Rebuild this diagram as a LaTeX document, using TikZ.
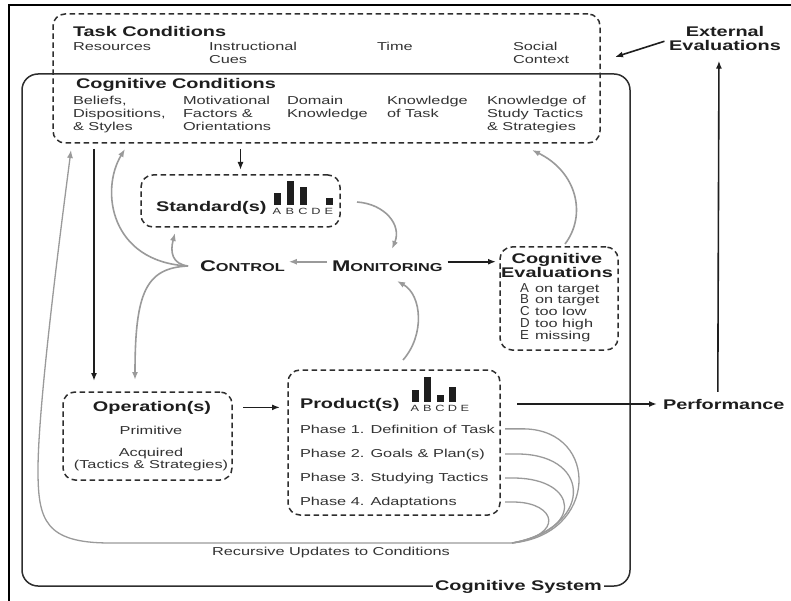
\documentclass[tikz,border=0pt]{standalone}
\usepackage{graphicx}
\usepackage{fontspec}
\setmainfont{Liberation Sans}[FakeStretch=1.42]
\usetikzlibrary{arrows.meta}
\definecolor{ink}{HTML}{1E1E1E}
\definecolor{txt}{HTML}{333333}
\definecolor{soft}{HTML}{9A9A9A}
\definecolor{boxline}{HTML}{2E2E2E}
% small caps built from two sizes
\newcommand\bigsmall[2]{{\fontsize{15.5}{15}\selectfont #1}{\fontsize{11.5}{12}\selectfont #2}}
% evaluation letter column
\newcommand\evl[1]{\makebox[15pt][l]{\scalebox{0.72}[1]{\fontsize{13}{11.8}\selectfont #1}}}

\begin{document}
\begin{tikzpicture}[x=1pt,y=-1pt,
  every node/.style={inner sep=0pt, outer sep=0pt},
  title/.style={font=\fontsize{14}{13.5}\selectfont\bfseries, text=ink},
  item/.style={font=\fontsize{11.5}{12.8}\selectfont, text=txt, align=left},
  dbox/.style={draw=boxline, line width=1.5pt, dash pattern=on 5.5pt off 3.5pt, rounded corners=12pt},
  blk/.style={draw=ink, line width=1.6pt, -{Latex[length=8pt,width=6pt]}},
  gry/.style={draw=soft, line width=1.6pt, -{Latex[length=8pt,width=6pt]}},
  lp/.style={draw=soft, line width=1.3pt},
  tick/.style={font=\fontsize{9}{9}\selectfont, text=txt, anchor=base},
]
\useasboundingbox (0,0) rectangle (791,601);
\fill[white] (0,0) rectangle (791,601);

% outer frame
\draw[line width=2pt] (9,601) -- (9,5) -- (791,5);

% cognitive system outline
\draw[draw=boxline, line width=1.5pt, rounded corners=16pt] (22,74) rectangle (630,586);
\node[title, anchor=base west, fill=white, inner xsep=2pt, inner ysep=2pt] (cogsys) at (433,590) {Cognitive System};

% dashed boxes
\node[dbox, minimum width=547pt, minimum height=129pt] (condbox) at (326.5,78.5) {};
\node[dbox, minimum width=199pt, minimum height=52pt] (stdbox) at (240.5,201) {};
\node[dbox, minimum width=118pt, minimum height=103pt] (evalbox) at (559,298.5) {};
\node[dbox, minimum width=169pt, minimum height=88pt] (opbox) at (147.5,436) {};
\node[dbox, minimum width=212pt, minimum height=145pt] (prodbox) at (394,442.5) {};

% task conditions (multi-line nodes sit on their last baseline)
\node[title, anchor=base west] (task) at (73,37) {Task Conditions};
\node[item, anchor=base west] (res) at (73,51) {Resources};
\node[item, anchor=base west] (cues) at (209,63.8) {Instructional\\Cues};
\node[item, anchor=base west] (time) at (377,51) {Time};
\node[item, anchor=base west] (social) at (513,63.8) {Social\\Context};

% cognitive conditions
\node[title, anchor=base west] (cogc) at (76,89) {Cognitive Conditions};
\node[item, anchor=base west] (beliefs) at (73,130.6) {Beliefs,\\Dispositions,\\\& Styles};
\node[item, anchor=base west] (motiv) at (183,130.6) {Motivational\\Factors \&\\Orientations};
\node[item, anchor=base west] (domain) at (287,117.8) {Domain\\Knowledge};
\node[item, anchor=base west] (ktask) at (387,117.8) {Knowledge\\of Task};
\node[item, anchor=base west] (ktact) at (487,130.6) {Knowledge of\\Study Tactics\\\& Strategies};

% external evaluations
\node[title, anchor=base, align=center] (ext) at (725,50.5) {External\\Evaluations};

% standards
\node[title, anchor=base west] (std) at (156,212) {Standard(s)};
\fill[ink] (273.5,205) rectangle (280.5,193);
\fill[ink] (286.5,205) rectangle (293.5,181);
\fill[ink] (299.5,205) rectangle (306.5,187);
\fill[ink] (325.5,205) rectangle (332.5,198);
\node[tick] (sa) at (277,215) {A};
\node[tick] (sb) at (290,215) {B};
\node[tick] (sc) at (303,215) {C};
\node[tick] (sd) at (316,215) {D};
\node[tick] (se) at (329,215) {E};

% control and monitoring
\node[anchor=base west, text=ink, font=\bfseries] (ctl) at (200,272) {\bigsmall{C}{ONTROL}};
\node[anchor=base west, text=ink, font=\bfseries] (mon) at (332,272) {\bigsmall{M}{ONITORING}};

% cognitive evaluations
\node[title, anchor=base, align=center, font=\fontsize{14}{14}\selectfont\bfseries] (ceval) at (557,277) {Cognitive\\Evaluations};
\node[item, anchor=base west, font=\fontsize{11.5}{11.8}\selectfont] (evlist) at (520,339.2)
  {\evl{A}on target\\\evl{B}on target\\\evl{C}too low\\\evl{D}too high\\\evl{E}missing};

% operations
\node[title, anchor=base] (optitle) at (152,411) {Operation(s)};
\node[item, anchor=base, align=center] (prim) at (151,434) {Primitive};
\node[item, anchor=base, align=center, font=\fontsize{11.5}{12}\selectfont] (acq) at (151,468) {Acquired\\(Tactics \& Strategies)};

% products
\node[title, anchor=base west] (prodtitle) at (300,408) {Product(s)};
\fill[ink] (411.5,402) rectangle (418.5,390);
\fill[ink] (423.5,402) rectangle (431,377);
\fill[ink] (436.5,402) rectangle (443.5,395);
\fill[ink] (449,402) rectangle (456,387);
\node[tick] (pa) at (415,411) {A};
\node[tick] (pb) at (427.5,411) {B};
\node[tick] (pc) at (440,411) {C};
\node[tick] (pd) at (452.5,411) {D};
\node[tick] (pe) at (465,411) {E};
\node[item, anchor=base west] (ph1) at (300,433) {Phase 1. Definition of Task};
\node[item, anchor=base west] (ph2) at (300,457) {Phase 2. Goals \& Plan(s)};
\node[item, anchor=base west] (ph3) at (300,481) {Phase 3. Studying Tactics};
\node[item, anchor=base west] (ph4) at (300,505) {Phase 4. Adaptations};

% performance
\node[title, anchor=base west] (perf) at (663,409) {Performance};

% recursive updates label
\node[item, anchor=base] (recur) at (331,555) {Recursive Updates to Conditions};

% --- connectors ---
% conditions to standards and operations
\draw[blk, shorten <=6pt, shorten >=5pt] (stdbox.north |- condbox.south) -- (stdbox.north);
\draw[blk, shorten <=6pt, shorten >=11pt] ([xshift=31pt]opbox.north west |- condbox.south) -- ([xshift=31pt]opbox.north west);

% monitoring outputs
\draw[gry, shorten <=5pt, shorten >=4pt] (mon.west) ++(0,-5) coordinate (mw) -- (ctl.east |- mw);
\draw[blk, shorten <=5pt, shorten >=4pt] (mon.east |- mw) -- (evalbox.west |- mw);

% control branches
\coordinate (cj) at (188,266);
\draw[gry] (cj) .. controls (172,264) and (170,252) .. (175,233);
\draw[gry] (cj) .. controls (110,262) and (100,190) .. (125,149);
\draw[gry] (cj) .. controls (146,268) and (135,292) .. (135,380);

% feedback into monitoring
\coordinate (s1) at (357,202);
\coordinate (m1) at (392,249);
\draw[gry] (s1) .. controls (385,204) and (402,225) .. (m1);
\coordinate (p1) at (403,360);
\coordinate (m2) at (397,281);
\draw[gry] (p1) .. controls (425,335) and (422,295) .. (m2);

% evaluations back to conditions
\coordinate (e1) at (565,244);
\coordinate (c1) at (532,150);
\draw[gry] (e1) .. controls (587,215) and (577,172) .. (c1);

% operations to products, products to performance
\draw[blk, shorten <=11pt, shorten >=8pt] (opbox.east |- optitle.center) -- (prodbox.west |- optitle.center);
\draw[blk, shorten <=17pt, shorten >=6pt] (prodbox.east |- perf.west) -- (perf.west);
\draw[blk, shorten <=7pt, shorten >=10pt] ([xshift=-6pt]perf.north) -- ([xshift=-6pt]ext.south);
\draw[blk, shorten <=5pt] (ext.west) ++(0,1) -- ([xshift=15pt,yshift=21.5pt]condbox.east);

% recursive updates from the phases
\coordinate (rj) at (512,543);
\draw[lp, -{Latex[length=8pt,width=6pt]}] ([xshift=5pt]prodbox.east |- ph1.center) -- ++(20,0)
  .. controls (600,431) and (598,535) .. (rj) -- (110,543)
  .. controls (45,543) and (38,520) .. (38,470)
  .. controls (38,400) and (64,205) .. (71,150);
\draw[lp] ([xshift=5pt]prodbox.east |- ph2.center) -- ++(15,0) .. controls (593,456) and (592,528) .. (rj);
\draw[lp] ([xshift=5pt]prodbox.east |- ph3.center) -- ++(10,0) .. controls (578,479) and (585,530) .. (rj);
\draw[lp] ([xshift=5pt]prodbox.east |- ph4.center) -- ++(10,0) .. controls (556,503) and (565,535) .. (rj);
\end{tikzpicture}
\end{document}
